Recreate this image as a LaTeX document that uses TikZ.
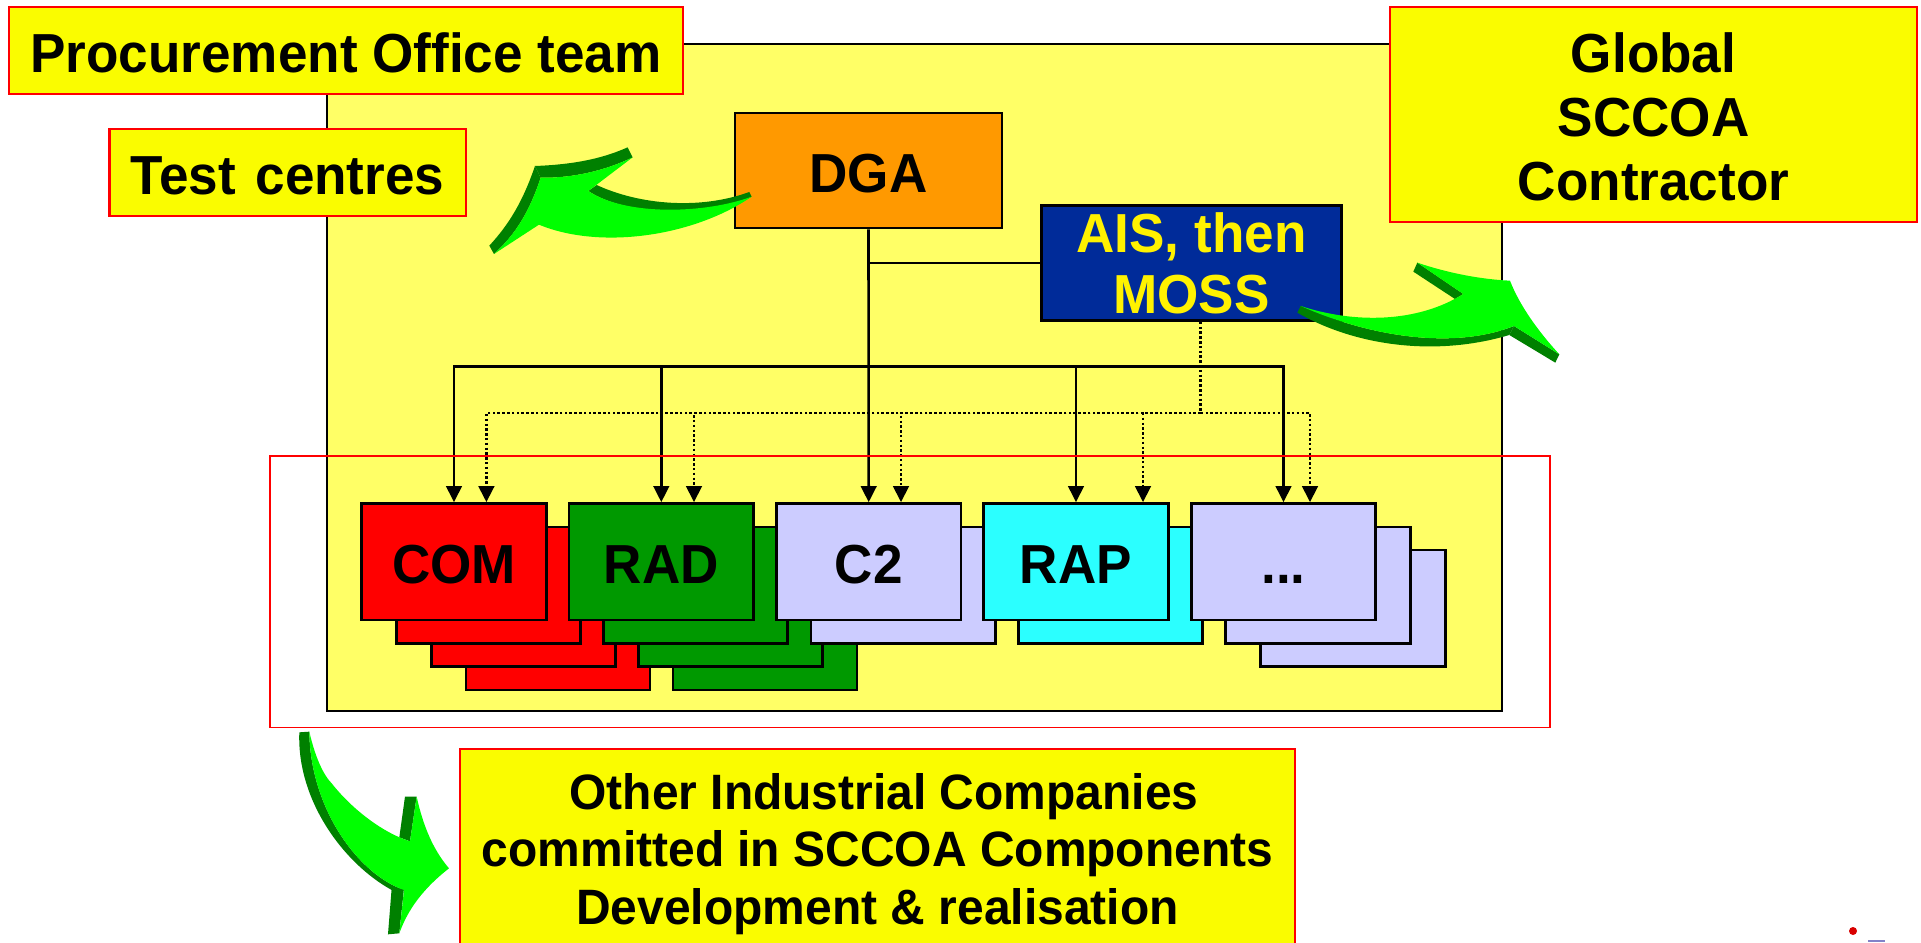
\documentclass[tikz,border=0pt]{standalone}
\usepackage{fontspec}
\setmainfont{Liberation Sans}[FakeStretch=0.965]
\usetikzlibrary{arrows.meta}
\definecolor{bgyel}{HTML}{FFFF66}
\definecolor{labyel}{HTML}{FAFC00}
\definecolor{orangebox}{HTML}{FF9900}
\definecolor{bluebox}{HTML}{002B99}
\definecolor{grnbox}{HTML}{009900}
\definecolor{lavbox}{HTML}{CCCCFF}
\definecolor{cyanbox}{HTML}{2BFFFF}
\definecolor{arrlight}{HTML}{00FF00}
\definecolor{arrdark}{HTML}{008000}
\tikzset{
  box/.style={draw=black,line width=2.6pt,rectangle,inner sep=0pt,minimum width=#1},
  box/.default=184.5pt,
  oneline/.style={text height=44pt,text depth=0pt},
  unit/.style={box,oneline,minimum height=116.5pt,font=\bfseries\fontsize{55}{60}\selectfont},
  layer/.style={draw=black,line width=2.6pt,fill=#1},
  lab/.style={draw=red,line width=2.5pt,fill=labyel,rectangle,inner sep=0pt,align=center,font=\bfseries\fontsize{55}{64}\selectfont},
  solidarr/.style={draw=black,line width=2.6pt,-{Triangle[width=15.5pt,length=16pt]}},
  plainline/.style={draw=black,line width=2.6pt},
  dotarr/.style={draw=black,line width=2.9pt,dash pattern=on 2.5pt off 2.3pt,-{Triangle[width=15.5pt,length=16pt,sep=0pt]}},
  dotline/.style={draw=black,line width=2.9pt,dash pattern=on 2.5pt off 2.3pt},
  aL/.style={fill=arrlight,draw=none},
  aD/.style={fill=arrdark,draw=none},
}
\newcommand{\stack}[6]{% x0, y0, n offsets list, colour
  \foreach \k in {#3,...,1}{\draw[layer=#4] ({#1+34.6*\k},{#2+23.3*\k}) rectangle ++(#5,#6);}
}
\begin{document}
\begin{tikzpicture}[x=1pt,y=-1pt]
\useasboundingbox (0,0) rectangle (1921,942);
\fill[white] (0,0) rectangle (1921,942);
% background panel
\draw[draw=black,line width=2.6pt,fill=bgyel] (327,44) rectangle (1502,711);
% top boxes
\node[box=267pt,oneline,minimum height=115pt,fill=orangebox,font=\bfseries\fontsize{55}{60}\selectfont] (dga) at (868.5,170.5) {DGA};
\node[box=300pt,minimum height=115pt,fill=bluebox,text=yellow,align=center,font=\bfseries\fontsize{55}{61}\selectfont] (ais) at (1191.5,263) {AIS, then\\MOSS};
% unit stacks
\stack{362}{503.5}{3}{red}{184}{116.5}
\node[unit,fill=red] (com) at (454,561.7) {COM};
\stack{569}{503.5}{3}{grnbox}{184}{116.5}
\node[unit,fill=grnbox] (rad) at (661.3,561.7) {RAD};
\stack{776.5}{503.5}{1}{lavbox}{184.5}{116.5}
\node[unit,fill=lavbox] (c2) at (868.7,561.7) {C2};
\stack{984}{503.5}{1}{cyanbox}{184}{116.5}
\node[unit,fill=cyanbox] (rap) at (1076,561.7) {RAP};
\stack{1191}{503.5}{2}{lavbox}{185}{116.5}
\node[unit,fill=lavbox] (more) at (1283.5,561.7) {...};
% solid connectors
\coordinate (bus) at (868.5,366.5);
\draw[plainline] (ais.west) -- (ais.west -| dga.south);
\draw[solidarr] (dga.south) -- (c2.north);
\draw[solidarr] (bus) -| (com.north);
\draw[solidarr] (bus) -| (rad.north);
\draw[solidarr] (bus) -| (rap.north);
\draw[solidarr] (bus) -| (more.north);
% dotted connectors
\coordinate (mossout) at ([xshift=9.2pt]ais.south);
\coordinate (dotbus) at (1200.7,413);
\coordinate (tcom) at ([xshift=32.4pt]com.north);
\coordinate (trad) at ([xshift=32.7pt]rad.north);
\coordinate (tc2) at ([xshift=32.3pt]c2.north);
\coordinate (trap) at ([xshift=67pt]rap.north);
\coordinate (tmore) at ([xshift=26.5pt]more.north);
\draw[dotline] (mossout) -- (dotbus);
\draw[dotarr] (dotbus) -| (tcom);
\draw[dotarr] (dotbus) -| (trad);
\draw[dotarr] (dotbus) -| (tc2);
\draw[dotarr] (dotbus) -| (trap);
\draw[dotarr] (dotbus) -| (tmore);
% red frame
\draw[red,line width=1.8pt] (270,456) rectangle (1550,727.5);
% labels
\node[lab,oneline,minimum width=674pt,minimum height=87pt] (proc) at (346,50.5) {Procurement Office team};
\node[lab,oneline,minimum width=356.5pt,minimum height=87pt] (test) at (287.5,172.5) {Test\hspace{5pt} centres};
\node[lab,minimum width=527pt,minimum height=215pt] (glob) at (1653.5,114.5) {\rule{0pt}{45pt}Global\\SCCOA\\Contractor};
\node[lab,minimum width=835pt,minimum height=210pt,font=\bfseries\fontsize{49.7}{57.5}\selectfont] (other) at (877.5,854) {\hspace*{13pt}Other Industrial Companies\\committed in SCCOA Components\\Development \& realisation};
% green arrow 1
\begin{scope}[shift={(440,130)},x=0.3333pt,y=-0.3333pt]
\path[aD] (285,108) .. controls (420,103) and (500,80) .. (563,52) -- (578,82) .. controls (500,120) and (400,145) .. (302,143) -- cycle;
\path[aD] (148,347) .. controls (210,280) and (250,210) .. (285,108) -- (302,143) .. controls (270,240) and (230,310) .. (162,372) -- cycle;
\path[aD] (470,165) .. controls (600,225) and (780,240) .. (928,186) -- (935,200) .. controls (800,260) and (560,260) .. (445,183) -- cycle;
\path[aL] (935,200) .. controls (800,250) and (560,260) .. (445,183) -- (578,82) .. controls (500,120) and (400,145) .. (302,143) .. controls (270,240) and (230,310) .. (162,372) -- (297,284) .. controls (480,360) and (760,320) .. (935,200) -- cycle;
\end{scope}
% green arrow 2
\begin{scope}[shift={(1270,240)},x=0.3333pt,y=-0.3333pt]
\path[aD] (442,68) -- (430,95) -- (555,177) -- (580,162) -- cycle;
\path[aD] (82,218) -- (92,198) .. controls (300,290) and (550,330) .. (732,258) -- (718,285) .. controls (500,350) and (260,320) .. (82,218) -- cycle;
\path[aD] (732,258) -- (868,343) -- (856,368) -- (718,285) -- cycle;
\path[aL] (92,198) .. controls (250,250) and (440,250) .. (580,162) -- (442,68) .. controls (530,98) and (630,118) .. (720,122) .. controls (750,200) and (810,280) .. (868,343) -- (732,258) .. controls (550,330) and (300,290) .. (92,198) -- cycle;
\end{scope}
% green arrow 3
\begin{scope}[shift={(270,700)},x=0.3333pt,y=-0.3333pt]
\path[aD] (405,290) -- (440,290) -- (420,424) -- (388,412) -- cycle;
\path[aD] (88,97) -- (118,95) .. controls (120,320) and (260,520) .. (402,570) -- (365,570) .. controls (220,490) and (80,300) .. (88,97) -- cycle;
\path[aD] (365,565) -- (402,565) -- (388,700) -- (354,703) -- cycle;
\path[aL] (118,95) .. controls (135,170) and (160,225) .. (185,250) .. controls (240,320) and (330,395) .. (420,424) -- (440,290) .. controls (460,380) and (490,450) .. (537,505) .. controls (480,550) and (420,610) .. (388,700) -- (402,570) .. controls (260,520) and (120,320) .. (118,95) -- cycle;
\end{scope}
% corner fragment
\fill[red!85!black] (1853,931) circle (4pt);
\fill[blue!40!gray!70] (1868,940) rectangle (1885,942);
\end{tikzpicture}
\end{document}
